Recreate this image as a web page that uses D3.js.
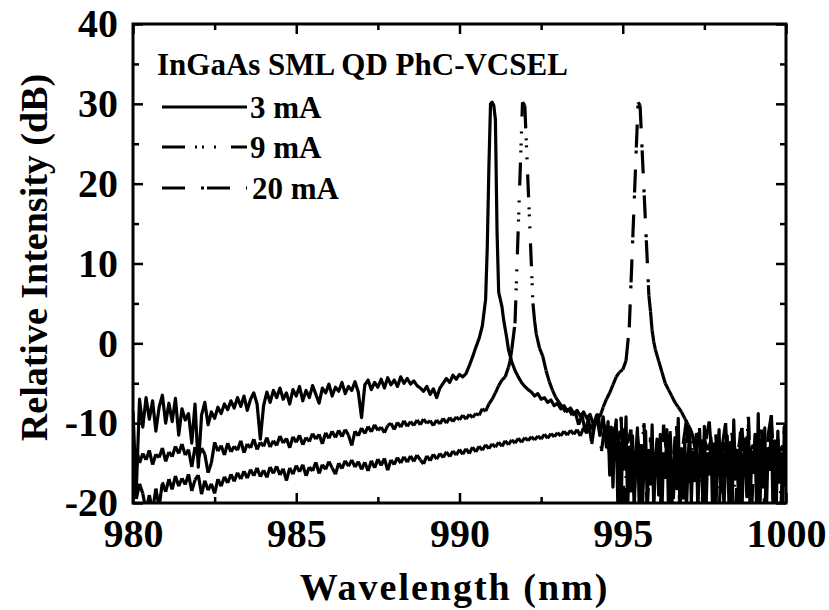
<!DOCTYPE html>
<html>
<head>
<meta charset="utf-8">
<script src="https://cdn.jsdelivr.net/npm/d3@7/dist/d3.min.js"></script>
<style>
  html, body { margin: 0; padding: 0; background: #fff; }
  svg { display: block; }
  text { font-family: "Liberation Serif", "Times New Roman", serif; font-weight: bold; fill: #000; }
</style>
</head>
<body>
<svg id="chart" width="829" height="610"></svg>
<script>
// Emission spectra of an InGaAs SML QD PhC-VCSEL at three drive currents.
// Each entry: [wavelength (nm), relative intensity (dB)]

const spectrum3mA = [
  [980.0,-8.5],[980.1,-18.5],[980.2,-7.0],[980.3,-10.5],[980.4,-6.8],[980.5,-9.5],[980.6,-7.2],[980.7,-11.0],[980.8,-8.0],[980.9,-6.5],
  [981.0,-10.0],[981.1,-7.5],[981.2,-9.8],[981.3,-6.9],[981.4,-11.5],[981.5,-8.2],[981.6,-9.6],[981.7,-8.8],[981.8,-12.5],[981.9,-7.6],
  [982.0,-15.5],[982.1,-9.0],[982.2,-7.4],[982.3,-10.2],[982.4,-8.6],[982.5,-9.4],[982.6,-8.0],[982.7,-8.8],[982.8,-7.6],[982.9,-8.3],
  [983.0,-7.2],[983.1,-8.1],[983.2,-6.8],[983.3,-7.9],[983.4,-6.6],[983.5,-8.4],[983.6,-7.0],[983.7,-6.2],[983.8,-7.6],[983.9,-12.0],
  [984.0,-7.8],[984.1,-6.1],[984.2,-7.4],[984.3,-5.9],[984.4,-6.8],[984.5,-5.6],[984.6,-7.0],[984.7,-6.2],[984.8,-7.6],[984.9,-5.8],
  [985.0,-6.6],[985.1,-5.4],[985.2,-7.2],[985.3,-5.9],[985.4,-6.8],[985.5,-5.3],[985.6,-6.4],[985.7,-7.5],[985.8,-5.6],[985.9,-6.2],
  [986.0,-5.1],[986.1,-6.6],[986.2,-5.5],[986.3,-6.0],[986.4,-4.9],[986.5,-6.3],[986.6,-5.4],[986.7,-5.9],[986.8,-4.8],[986.9,-6.1],
  [987.0,-9.3],[987.1,-5.2],[987.2,-4.6],[987.3,-5.8],[987.4,-4.9],[987.5,-5.5],[987.6,-4.5],[987.7,-5.6],[987.8,-4.3],[987.9,-5.2],
  [988.0,-4.6],[988.1,-5.4],[988.2,-4.2],[988.3,-5.0],[988.4,-4.4],[988.5,-5.1],[988.6,-4.7],[988.7,-5.3],[988.8,-5.6],[988.9,-6.0],
  [989.0,-5.4],[989.1,-6.4],[989.2,-5.7],[989.3,-6.8],[989.4,-5.6],[989.5,-5.0],[989.6,-4.4],[989.7,-4.9],[989.8,-4.0],[989.9,-4.5],
  [990.0,-3.9],[990.1,-4.2],[990.2,-3.8],[990.3,-2.8],[990.4,-1.7],[990.5,-0.5],[990.6,0.6],[990.7,2.2],[990.8,5.5],[990.85,12],
  [990.9,22],[990.95,30],[991.0,30.2],[991.05,29.8],[991.1,28],[991.15,14],[991.2,6.4],[991.25,5.5],[991.3,4.6],[991.35,3.0],
  [991.4,1.8],[991.45,0.6],[991.5,-0.8],[991.6,-2.3],[991.7,-3.4],[991.8,-4.2],[991.9,-4.9],[992.0,-5.4],[992.1,-5.8],[992.2,-6.1],
  [992.3,-6.6],[992.4,-6.3],[992.5,-7.0],[992.6,-6.8],[992.7,-7.4],[992.8,-7.1],[992.9,-7.8],[993.0,-7.5],[993.1,-8.2],[993.2,-7.8],
  [993.3,-8.5],[993.4,-8.1],[993.5,-8.8],[993.6,-8.4],[993.7,-9.1],[993.8,-8.6],[993.9,-9.4],[994.0,-8.9],[994.1,-10.2],[994.2,-9.0],
  [994.3,-11.5],[994.4,-9.2],[994.5,-13.0],[994.55,-9.8],[994.6,-16.5],[994.65,-10.5],[994.7,-18.0],[994.75,-11.2],[994.8,-9.6],[994.85,-20.5],
  [994.9,-12.4],[994.95,-21],[995.0,-10.8],[995.05,-15.6],[995.1,-9.2],[995.15,-21],[995.2,-13.0],[995.25,-18.5],[995.3,-11.6],[995.35,-21],
  [995.4,-14.2],[995.45,-10.6],[995.5,-19.8],[995.55,-12.8],[995.6,-21],[995.65,-15.0],[995.7,-11.0],[995.75,-20.2],[995.8,-13.4],[995.85,-17.6],
  [995.9,-10.2],[995.95,-21],[996.0,-14.6],[996.05,-12.0],[996.1,-19.0],[996.15,-11.4],[996.2,-21],[996.25,-13.8],[996.3,-16.8],[996.35,-10.8],
  [996.4,-20.6],[996.45,-12.6],[996.5,-21],[996.55,-15.4],[996.6,-11.8],[996.65,-18.2],[996.7,-9.4],[996.75,-21],[996.8,-13.2],[996.85,-19.4],
  [996.9,-12.0],[996.95,-21],[997.0,-14.8],[997.05,-10.6],[997.1,-20.0],[997.15,-13.6],[997.2,-17.2],[997.25,-11.4],[997.3,-21],[997.35,-14.4],
  [997.4,-12.2],[997.45,-19.6],[997.5,-10.4],[997.55,-21],[997.6,-13.8],[997.65,-16.4],[997.7,-11.8],[997.75,-20.8],[997.8,-12.6],[997.85,-21],
  [997.9,-15.2],[997.95,-10.8],[998.0,-18.6],[998.05,-13.0],[998.1,-21],[998.15,-14.0],[998.2,-11.6],[998.25,-19.8],[998.3,-12.4],[998.35,-21],
  [998.4,-9.6],[998.45,-17.0],[998.5,-13.4],[998.55,-20.4],[998.6,-11.2],[998.65,-21],[998.7,-14.6],[998.75,-12.0],[998.8,-19.2],[998.85,-10.2],
  [998.9,-21],[998.95,-13.6],[999.0,-16.2],[999.05,-11.4],[999.1,-20.8],[999.15,-8.8],[999.2,-21],[999.25,-12.8],[999.3,-18.0],[999.35,-10.6],
  [999.4,-21],[999.45,-13.2],[999.5,-15.8],[999.55,-9.6],[999.6,-20.6],[999.65,-12.2],[999.7,-21],[999.75,-11.0],[999.8,-17.4],[999.85,-13.8],
  [999.9,-20.2],[999.95,-10.4],[1000.0,-18.0]
];

const spectrum9mA = [
  [980.0,-14.5],[980.1,-13.2],[980.2,-15.0],[980.3,-13.8],[980.4,-14.6],[980.5,-13.4],[980.6,-15.2],[980.7,-13.9],[980.8,-14.3],[980.9,-13.1],
  [981.0,-14.8],[981.1,-13.6],[981.2,-14.2],[981.3,-12.9],[981.4,-13.8],[981.5,-12.6],[981.6,-14.0],[981.7,-13.3],[981.8,-15.5],[981.9,-13.0],
  [982.0,-14.4],[982.1,-13.1],[982.2,-13.9],[982.3,-16.2],[982.4,-15.0],[982.5,-12.4],[982.6,-13.5],[982.7,-12.8],[982.8,-14.0],[982.9,-12.5],
  [983.0,-13.6],[983.1,-12.9],[983.2,-13.4],[983.3,-12.2],[983.4,-13.7],[983.5,-12.6],[983.6,-13.1],[983.7,-12.0],[983.8,-13.3],[983.9,-12.4],
  [984.0,-12.9],[984.1,-11.8],[984.2,-13.0],[984.3,-12.2],[984.4,-12.8],[984.5,-11.6],[984.6,-12.5],[984.7,-11.9],[984.8,-13.1],[984.9,-11.7],
  [985.0,-12.4],[985.1,-11.5],[985.2,-12.7],[985.3,-11.8],[985.4,-12.3],[985.5,-11.3],[985.6,-12.0],[985.7,-11.4],[985.8,-12.6],[985.9,-11.2],
  [986.0,-11.9],[986.1,-11.0],[986.2,-11.8],[986.3,-10.9],[986.4,-11.7],[986.5,-10.8],[986.6,-11.5],[986.7,-12.8],[986.8,-11.0],[986.9,-11.6],
  [987.0,-10.6],[987.1,-11.3],[987.2,-10.4],[987.3,-11.1],[987.4,-10.2],[987.5,-10.9],[987.6,-10.5],[987.7,-11.2],[987.8,-10.3],[987.9,-10.0],
  [988.0,-10.8],[988.1,-9.9],[988.2,-10.5],[988.3,-9.7],[988.4,-10.4],[988.5,-9.8],[988.6,-10.3],[988.7,-9.6],[988.8,-10.2],[988.9,-9.5],
  [989.0,-10.0],[989.1,-9.7],[989.2,-10.3],[989.3,-9.6],[989.4,-10.1],[989.5,-9.4],[989.6,-10.0],[989.7,-9.3],[989.8,-9.8],[989.9,-9.2],
  [990.0,-9.6],[990.1,-9.0],[990.2,-9.5],[990.3,-8.9],[990.4,-9.3],[990.5,-8.8],[990.6,-9.0],[990.7,-8.2],[990.8,-8.5],[990.9,-7.6],
  [991.0,-7.0],[991.1,-6.2],[991.2,-5.3],[991.3,-4.6],[991.4,-4.2],[991.5,-3.0],[991.55,-2.2],[991.6,-0.8],[991.7,2.5],[991.93,30.2],
  [992.0,29.8],[992.25,5.0],[992.3,2.8],[992.35,1.2],[992.45,-0.6],[992.55,-1.6],[992.65,-3.4],[992.75,-4.8],[992.85,-5.9],[992.95,-6.8],
  [993.05,-7.4],[993.15,-8.0],[993.25,-8.6],[993.35,-8.2],[993.45,-9.0],[993.55,-8.7],[993.65,-10.2],[993.75,-9.0],[993.85,-11.0],[993.95,-9.4],
  [994.05,-12.6],[994.15,-9.8],[994.25,-8.8],[994.35,-13.5],[994.45,-10.2],[994.55,-12.0],[994.65,-16],[994.75,-10.5],[994.85,-13.8],[994.95,-9.2],
  [995.05,-21],[995.15,-12.5],[995.25,-10.8],[995.35,-19],[995.45,-11.5],[995.55,-15.5],[995.65,-10.0],[995.75,-21],[995.85,-11.8],[995.95,-16.5],
  [996.05,-12.4],[996.15,-21],[996.25,-10.2],[996.35,-14.2],[996.45,-11.0],[996.55,-19.5],[996.65,-10.4],[996.75,-21],[996.85,-12.6],[996.95,-9.6],
  [997.05,-17.5],[997.15,-11.8],[997.25,-14.0],[997.35,-10.6],[997.45,-20.5],[997.55,-12.0],[997.65,-9.8],[997.75,-15.5],[997.85,-11.4],[997.95,-21],
  [998.05,-12.8],[998.15,-10.0],[998.25,-18.0],[998.35,-11.2],[998.45,-21],[998.55,-13.0],[998.65,-10.6],[998.75,-16.0],[998.85,-9.2],[998.95,-20.5],
  [999.05,-12.2],[999.15,-14.8],[999.25,-10.8],[999.35,-21],[999.45,-11.6],[999.55,-9.0],[999.65,-17.2],[999.75,-12.0],[999.85,-20],[999.95,-10.4]
];

const spectrum20mA = [
  [980.0,-16.8],[980.1,-19.5],[980.2,-17.6],[980.3,-18.8],[980.4,-21],[980.5,-19.0],[980.6,-21],[980.7,-18.2],[980.8,-20.5],[980.9,-17.4],
  [981.0,-18.6],[981.1,-17.0],[981.2,-18.3],[981.3,-16.6],[981.4,-17.9],[981.5,-16.9],[981.6,-17.7],[981.7,-16.4],[981.8,-18.5],[981.9,-17.1],
  [982.0,-16.5],[982.1,-18.9],[982.2,-17.2],[982.3,-18.4],[982.4,-17.6],[982.5,-18.8],[982.6,-17.0],[982.7,-17.9],[982.8,-16.7],[982.9,-17.5],
  [983.0,-16.4],[983.1,-17.3],[983.2,-16.2],[983.3,-17.0],[983.4,-16.0],[983.5,-16.9],[983.6,-15.8],[983.7,-16.6],[983.8,-15.6],[983.9,-16.7],
  [984.0,-15.9],[984.1,-16.8],[984.2,-15.5],[984.3,-16.3],[984.4,-15.4],[984.5,-16.5],[984.6,-15.7],[984.7,-17.2],[984.8,-15.6],[984.9,-16.4],
  [985.0,-15.3],[985.1,-16.1],[985.2,-15.2],[985.3,-16.6],[985.4,-15.5],[985.5,-16.0],[985.6,-14.9],[985.7,-16.3],[985.8,-15.2],[985.9,-15.8],
  [986.0,-14.8],[986.1,-15.6],[986.2,-16.4],[986.3,-15.0],[986.4,-15.7],[986.5,-14.7],[986.6,-15.4],[986.7,-14.6],[986.8,-15.5],[986.9,-14.8],
  [987.0,-15.8],[987.1,-14.9],[987.2,-16.0],[987.3,-14.7],[987.4,-15.6],[987.5,-14.5],[987.6,-15.3],[987.7,-14.4],[987.8,-15.9],[987.9,-14.6],
  [988.0,-15.2],[988.1,-14.3],[988.2,-15.0],[988.3,-14.2],[988.4,-14.9],[988.5,-14.1],[988.6,-14.8],[988.7,-14.0],[988.8,-14.6],[988.9,-15.1],
  [989.0,-14.1],[989.1,-14.7],[989.2,-13.9],[989.3,-14.5],[989.4,-13.8],[989.5,-14.3],[989.6,-13.6],[989.7,-14.2],[989.8,-13.5],[989.9,-14.0],
  [990.0,-13.3],[990.1,-13.9],[990.2,-13.2],[990.3,-13.8],[990.4,-13.0],[990.5,-13.6],[990.6,-12.9],[990.7,-13.4],[990.8,-12.7],[990.9,-13.2],
  [991.0,-12.6],[991.1,-13.0],[991.2,-12.4],[991.3,-12.9],[991.4,-12.2],[991.5,-12.7],[991.6,-12.1],[991.7,-12.5],[991.8,-11.9],[991.9,-12.4],
  [992.0,-11.8],[992.1,-12.2],[992.2,-11.7],[992.3,-12.1],[992.4,-11.6],[992.5,-12.0],[992.6,-11.4],[992.7,-11.9],[992.8,-11.3],[992.9,-11.7],
  [993.0,-11.2],[993.1,-11.6],[993.2,-11.0],[993.3,-11.5],[993.4,-10.9],[993.5,-11.4],[993.6,-10.8],[993.7,-11.6],[993.8,-10.6],[993.9,-11.3],
  [994.0,-10.2],[994.1,-10.8],[994.2,-9.6],[994.3,-9.2],[994.4,-8.0],[994.5,-7.0],[994.6,-6.2],[994.7,-5.2],[994.8,-4.2],[994.9,-3.6],
  [995.0,-3.3],[995.1,-2.2],[995.2,2.0],[995.47,30.2],[995.53,29.8],[995.8,6.0],[995.85,4.0],[995.9,1.6],[995.95,0.2],[996.0,-0.8],
  [996.1,-2.2],[996.2,-3.6],[996.3,-5.0],[996.4,-5.8],[996.5,-6.6],[996.6,-7.4],[996.7,-8.0],[996.8,-8.6],[996.9,-9.4],[997.0,-10.2],
  [997.1,-11.0],[997.2,-12.5],[997.3,-11.6],[997.4,-13.0],[997.5,-12.0],[997.6,-13.4],[997.7,-12.2],[997.8,-14.0],[997.9,-12.8],[998.0,-13.5],
  [998.1,-12.4],[998.2,-14.2],[998.3,-13.0],[998.4,-12.6],[998.5,-14.4],[998.6,-13.2],[998.7,-12.8],[998.8,-14.0],[998.9,-13.4],[999.0,-12.7],
  [999.1,-14.3],[999.2,-13.1],[999.3,-12.5],[999.4,-13.8],[999.5,-13.0],[999.6,-14.1],[999.7,-12.9],[999.8,-13.6],[999.9,-12.8],[1000.0,-13.9]
];

const seriesLabels = ["3 mA", "9 mA", "20 mA"];
const legendTitle = "InGaAs SML QD PhC-VCSEL";
const xMajorTicks = [980, 985, 990, 995, 1000];
const xMinorTicks = [982.5, 987.5, 992.5, 997.5];
const yMajorTicks = [-20, -10, 0, 10, 20, 30, 40];
const yMinorTicks = [-15, -5, 5, 15, 25, 35];
const xTitle = "Wavelength (nm)";
const yTitle = "Relative Intensity (dB)";

// ---- layout ----
const width = 829, height = 610;
const margin = { top: 24, right: 43, bottom: 107, left: 133 };
const innerW = width - margin.left - margin.right;
const innerH = height - margin.top - margin.bottom;

const svg = d3.select("#chart");
const g = svg.append("g").attr("transform", `translate(${margin.left},${margin.top})`);

const x = d3.scaleLinear().domain([980, 1000]).range([0, innerW]);
const y = d3.scaleLinear().domain([-20, 40]).range([innerH, 0]);

// clip the traces to the plotting frame
svg.append("defs").append("clipPath").attr("id", "plotClip")
  .append("rect").attr("x", 0).attr("y", 0).attr("width", innerW).attr("height", innerH);

const traces = g.append("g").attr("clip-path", "url(#plotClip)");

const lineStyles = [
  { data: spectrum3mA, dash: null },
  { data: spectrum9mA, dash: "23,10,2,5,2,10,2,15" },
  { data: spectrum20mA, dash: "23,16,3,3" }
];

const line = d3.line().x(d => x(d[0])).y(d => y(d[1]));

lineStyles.forEach(s => {
  if (!s.dash) {
    traces.append("path")
      .datum(s.data)
      .attr("d", line)
      .attr("fill", "none")
      .attr("stroke", "#000")
      .attr("stroke-width", 3.2)
      .attr("stroke-linejoin", "round");
  } else {
    // dash pattern restarts on every segment between samples
    const segs = s.data.slice(1).map((d, i) => [s.data[i], d]);
    traces.append("g").selectAll("line").data(segs).join("line")
      .attr("x1", d => x(d[0][0])).attr("y1", d => y(d[0][1]))
      .attr("x2", d => x(d[1][0])).attr("y2", d => y(d[1][1]))
      .attr("stroke", "#000")
      .attr("stroke-width", 3.2)
      .attr("stroke-linecap", "butt")
      .attr("stroke-dasharray", s.dash);
  }
});

// ---- axes (ticks point inward on all four sides) ----
const tickFont = "40px";
const plainNum = d => String(d);
function styleAxis(sel) {
  sel.select(".domain").remove();
  sel.selectAll(".tick line").attr("stroke", "#000").attr("stroke-width", 2.5);
  sel.selectAll(".tick text").style("font-family", '"Liberation Serif", "Times New Roman", serif')
    .style("font-weight", "bold").style("font-size", tickFont).attr("fill", "#000");
}

g.append("g").attr("transform", `translate(0,${innerH})`)
  .call(d3.axisBottom(x).tickValues(xMajorTicks).tickSize(-10).tickPadding(16).tickFormat(plainNum))
  .call(styleAxis);
g.append("g").attr("transform", `translate(0,${innerH})`)
  .call(d3.axisBottom(x).tickValues(xMinorTicks).tickSize(-6).tickFormat(""))
  .call(styleAxis);
g.append("g")
  .call(d3.axisTop(x).tickValues(xMajorTicks).tickSize(-10).tickFormat(""))
  .call(styleAxis);
g.append("g")
  .call(d3.axisTop(x).tickValues(xMinorTicks).tickSize(-6).tickFormat(""))
  .call(styleAxis);

g.append("g")
  .call(d3.axisLeft(y).tickValues(yMajorTicks).tickSize(-10).tickPadding(15).tickFormat(plainNum))
  .call(styleAxis);
g.append("g")
  .call(d3.axisLeft(y).tickValues(yMinorTicks).tickSize(-6).tickFormat(""))
  .call(styleAxis);
g.append("g").attr("transform", `translate(${innerW},0)`)
  .call(d3.axisRight(y).tickValues(yMajorTicks).tickSize(-10).tickFormat(""))
  .call(styleAxis);
g.append("g").attr("transform", `translate(${innerW},0)`)
  .call(d3.axisRight(y).tickValues(yMinorTicks).tickSize(-6).tickFormat(""))
  .call(styleAxis);

// frame
g.append("rect")
  .attr("x", 0).attr("y", 0).attr("width", innerW).attr("height", innerH)
  .attr("fill", "none").attr("stroke", "#000").attr("stroke-width", 3);

// axis titles
svg.append("text")
  .attr("x", margin.left + innerW / 2 - 5)
  .attr("y", 600)
  .attr("text-anchor", "middle")
  .style("font-size", "38px")
  .style("letter-spacing", "2px")
  .text(xTitle);

svg.append("text")
  .attr("transform", `translate(47,${margin.top + innerH / 2 - 6}) rotate(-90)`)
  .attr("text-anchor", "middle")
  .style("font-size", "38px")
  .text(yTitle);

// legend
const legend = svg.append("g");
legend.append("text")
  .attr("x", 157).attr("y", 75)
  .style("font-size", "31px")
  .text(legendTitle);

const rowY = [107, 147, 188];
lineStyles.forEach((s, i) => {
  legend.append("line")
    .attr("x1", 162).attr("x2", 247)
    .attr("y1", rowY[i]).attr("y2", rowY[i])
    .attr("stroke", "#000").attr("stroke-width", 3)
    .attr("stroke-dasharray", s.dash);
  legend.append("text")
    .attr("x", i === 2 ? 252 : 250).attr("y", rowY[i] + 11)
    .style("font-size", "31px")
    .text(seriesLabels[i]);
});
</script>
</body>
</html>
